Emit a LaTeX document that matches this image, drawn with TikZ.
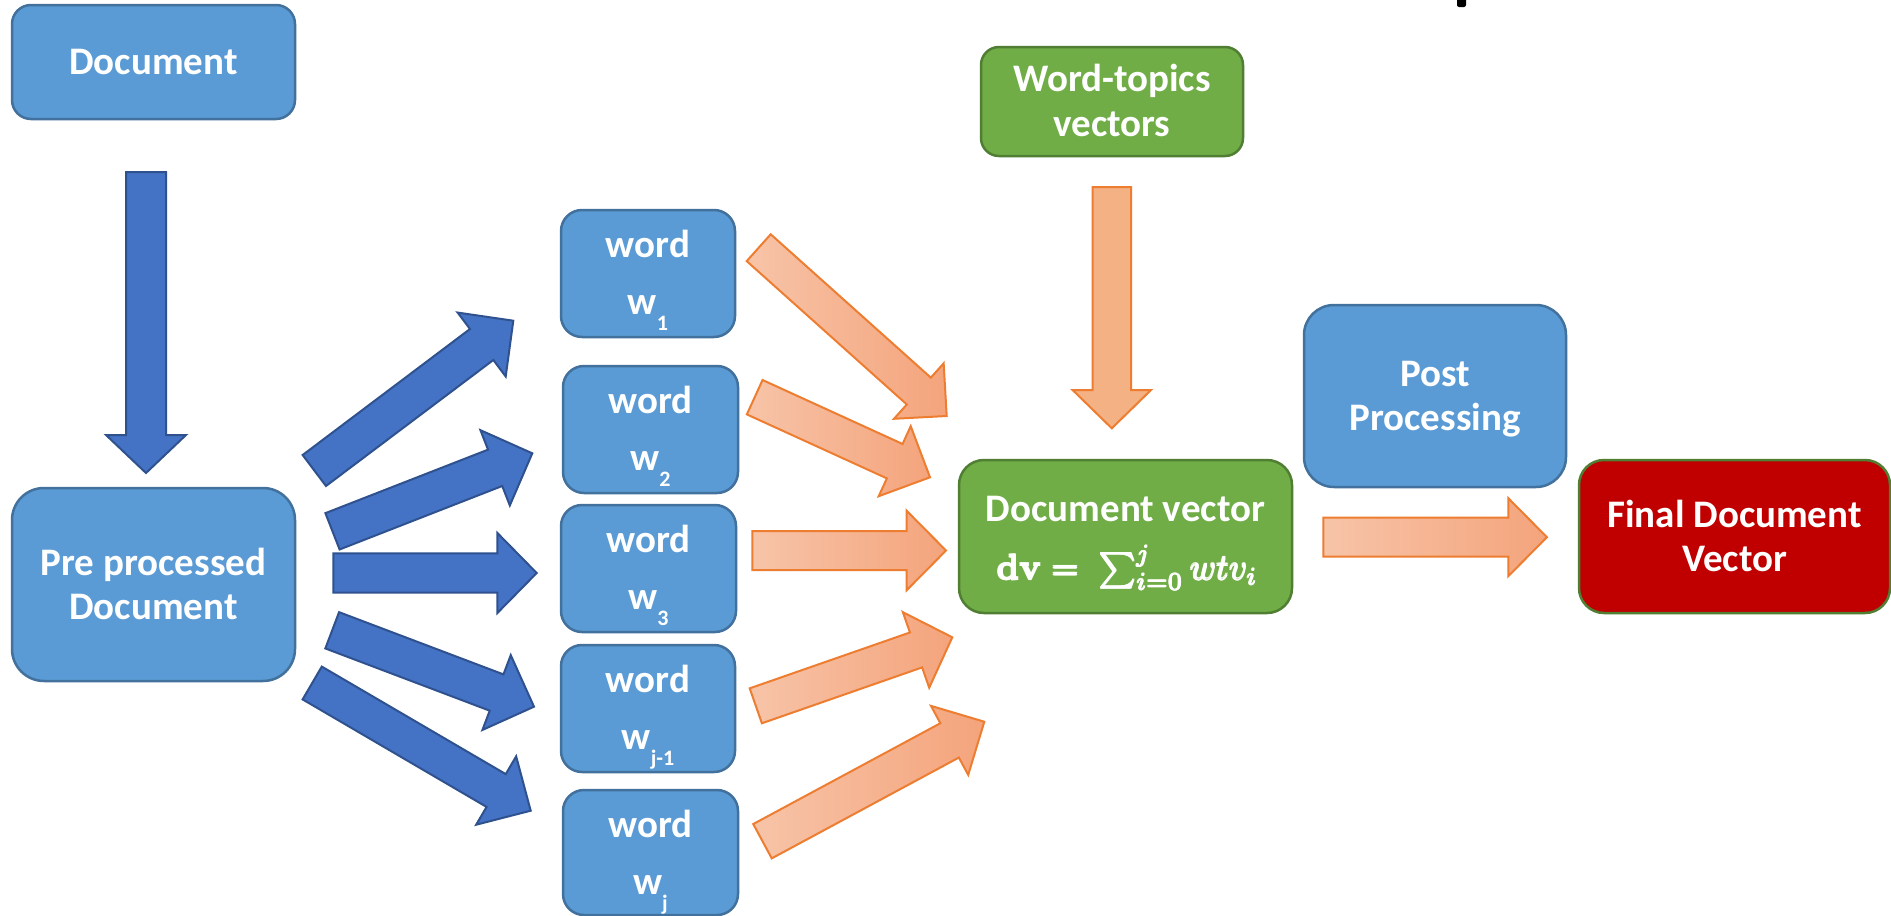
\documentclass[tikz,border=0pt]{standalone}
\usepackage{amsmath,graphicx}
\usepackage[no-math]{fontspec}
\setmainfont{Carlito}
\usetikzlibrary{calc}
\definecolor{boxblue}{HTML}{5B9BD5}
\definecolor{boxblueD}{HTML}{41719C}
\definecolor{arrblue}{HTML}{4472C4}
\definecolor{arrblueD}{HTML}{2F528F}
\definecolor{boxgreen}{HTML}{70AD47}
\definecolor{boxgreenD}{HTML}{507E32}
\definecolor{boxred}{HTML}{C00000}
\definecolor{oraD}{HTML}{ED7D31}
\definecolor{oraFlat}{HTML}{F4B183}
\definecolor{oraL}{HTML}{F7C4A8}
\definecolor{oraR}{HTML}{F4A47C}
% #1 style, #2 tail, #3 tip, #4 half shaft, #5 half head, #6 head length
\newcommand{\blockarrow}[6]{%
  \path ($(#3)!#6!(#2)$) coordinate (ba-h);
  \path[#1] ($(#2)!#4!90:(#3)$) -- ($(ba-h)!#4!90:(#3)$) -- ($(ba-h)!#5!90:(#3)$) -- (#3)
    -- ($(ba-h)!#5!-90:(#3)$) -- ($(ba-h)!#4!-90:(#3)$) -- ($(#2)!#4!-90:(#3)$) -- cycle;
}
\newcommand{\wsub}[1]{\raisebox{-16pt}{\fontsize{22}{22}\selectfont #1}}
% overprinted (heavy) copy of a formula
\newcommand{\heavy}[1]{\rlap{#1}\rlap{\kern.32pt#1}\rlap{\raisebox{.3pt}{#1}}\rlap{\kern.32pt\raisebox{.3pt}{#1}}\rlap{\kern.16pt\raisebox{.15pt}{#1}}\kern.16pt#1}
\tikzset{
  bluebox/.style={draw=boxblueD, fill=boxblue, line width=2.5pt, rounded corners=#1, inner sep=0pt},
  greenbox/.style={draw=boxgreenD, fill=boxgreen, line width=2.5pt, rounded corners=#1, inner sep=0pt},
  redbox/.style={draw=boxgreenD, fill=boxred, line width=2.5pt, rounded corners=#1, inner sep=0pt},
  txt/.style={text=white, font=\fontsize{39}{44}\selectfont\bfseries, inner sep=0pt, anchor=base},
  blarrow/.style={fill=arrblue, draw=arrblueD, line width=2pt, line join=miter},
  orarrow/.style={left color=oraL, right color=oraR, draw=oraD, line width=2pt, line join=miter},
  orflat/.style={fill=oraFlat, draw=oraD, line width=2pt, line join=miter},
}
\begin{document}
\begin{tikzpicture}[x=1pt,y=-1pt]
\useasboundingbox (0,0) rectangle (1891,916);
\fill[white] (0,0) rectangle (1891,916);

% boxes
\node[bluebox=19pt, minimum width=283pt, minimum height=114pt] (doc) at (153.5,62) {};
\node[bluebox=32pt, minimum width=283pt, minimum height=193pt] (pre) at (153.5,584.5) {};
\node[bluebox=21pt, minimum width=174pt, minimum height=127pt] (w1) at (648,273.5) {};
\node[bluebox=21pt, minimum width=175pt, minimum height=127pt] (w2) at (650.5,429.5) {};
\node[bluebox=21pt, minimum width=175pt, minimum height=127pt] (w3) at (648.5,568.5) {};
\node[bluebox=21pt, minimum width=174pt, minimum height=127pt] (wj1) at (648,708.5) {};
\node[bluebox=21pt, minimum width=175pt, minimum height=125pt] (wj) at (650.5,852.5) {};
\node[greenbox=18pt, minimum width=262pt, minimum height=109pt] (wt) at (1112,101.5) {};
\node[greenbox=25pt, minimum width=333pt, minimum height=153pt] (dv) at (1125.5,536.5) {};
\node[bluebox=30pt, minimum width=262pt, minimum height=182pt] (post) at (1435,396) {};
\node[redbox=25pt, minimum width=311pt, minimum height=153pt] (final) at (1734.5,536.5) {};

% texts
\node[txt] (t-doc) at (153.5,74.6) {Document};
\node[txt] (t-pre1) at (153.5,575) {Pre processed};
\node[txt] (t-pre2) at (153.5,619) {Document};
\node[txt] (t-w1a) at (648,257.5) {word};
\node[txt] (t-w1b) at (648,314.5) {w\wsub{1}};
\node[txt] (t-w2a) at (650.5,413.5) {word};
\node[txt] (t-w2b) at (650.5,470.5) {w\wsub{2}};
\node[txt] (t-w3a) at (648.5,552.5) {word};
\node[txt] (t-w3b) at (648.5,609.5) {w\wsub{3}};
\node[txt] (t-wj1a) at (648,692.5) {word};
\node[txt] (t-wj1b) at (648,749.5) {w\wsub{j-1}};
\node[txt] (t-wja) at (650.5,837.5) {word};
\node[txt] (t-wjb) at (650.5,894.5) {w\wsub{j}};
\node[txt] (t-wt1) at (1112,91.7) {Word-topics};
\node[txt] (t-wt2) at (1112,136) {vectors};
\node[txt] (t-dv1) at (1125.5,521.7) {Document vector};
\node[txt] (t-dv2) at (1127,580) {\scalebox{3.55}{\normalsize\heavy{$\mathbf{dv} =\; \textstyle\sum_{i=0}^{j} wtv_i$}}};
\node[txt] (t-post1) at (1435,386.7) {Post};
\node[txt] (t-post2) at (1435,430.7) {Processing};
\node[txt] (t-fin1) at (1734.5,527.3) {Final Document};
\node[txt] (t-fin2) at (1734.5,571.7) {Vector};

% arrow end points
\coordinate (bv-s) at (146,172);     \coordinate (bv-e) at (146,473);
\coordinate (b1-s) at (314.3,470.5); \coordinate (b1-e) at (513.3,320.7);
\coordinate (b2-s) at (332.5,531.3); \coordinate (b2-e) at (532.3,453.3);
\coordinate (b3-s) at (333.3,573);   \coordinate (b3-e) at (536.7,573);
\coordinate (b4-s) at (332.2,630.3); \coordinate (b4-e) at (534,706.7);
\coordinate (b5-s) at (312.2,683);   \coordinate (b5-e) at (530.7,810.7);
\coordinate (ov-s) at (1111.8,187);  \coordinate (ov-e) at (1111.8,428.3);
\coordinate (o1-s) at (758.7,247.7); \coordinate (o1-e) at (946.7,416);
\coordinate (o2-s) at (754.7,397.2); \coordinate (o2-e) at (930,477.3);
\coordinate (o3-s) at (752.3,550.5); \coordinate (o3-e) at (946,550.5);
\coordinate (o4-s) at (755.8,705.8); \coordinate (o4-e) at (952.3,637.3);
\coordinate (o5-s) at (762.5,841.2); \coordinate (o5-e) at (984.3,721.7);
\coordinate (of-s) at (1323.4,537.2);\coordinate (of-e) at (1546.9,537.2);

\blockarrow{blarrow}{bv-s}{bv-e}{20pt}{40pt}{38pt}
\blockarrow{blarrow}{b1-s}{b1-e}{19.4pt}{40pt}{39.6pt}
\blockarrow{blarrow}{b2-s}{b2-e}{19.5pt}{40.4pt}{39.9pt}
\blockarrow{blarrow}{b3-s}{b3-e}{19.7pt}{40pt}{39.3pt}
\blockarrow{blarrow}{b4-s}{b4-e}{19.4pt}{40pt}{40pt}
\blockarrow{blarrow}{b5-s}{b5-e}{19pt}{39.6pt}{40pt}

\blockarrow{orflat}{ov-s}{ov-e}{19.2pt}{39.2pt}{38.3pt}
\blockarrow{orarrow}{o1-s}{o1-e}{18pt}{37.2pt}{37.4pt}
\blockarrow{orarrow}{o2-s}{o2-e}{18.9pt}{38.5pt}{38.8pt}
\blockarrow{orarrow}{o3-s}{o3-e}{19.5pt}{39.7pt}{39.3pt}
\blockarrow{orarrow}{o4-s}{o4-e}{18.5pt}{40pt}{38.4pt}
\blockarrow{orarrow}{o5-s}{o5-e}{19.5pt}{39.2pt}{39.4pt}
\blockarrow{orarrow}{of-s}{of-e}{19.5pt}{38.9pt}{38.5pt}

% cut-off mark at the top edge
\fill[black, rounded corners=2pt] (1457,-3) rectangle (1466,7);
\end{tikzpicture}
\end{document}
